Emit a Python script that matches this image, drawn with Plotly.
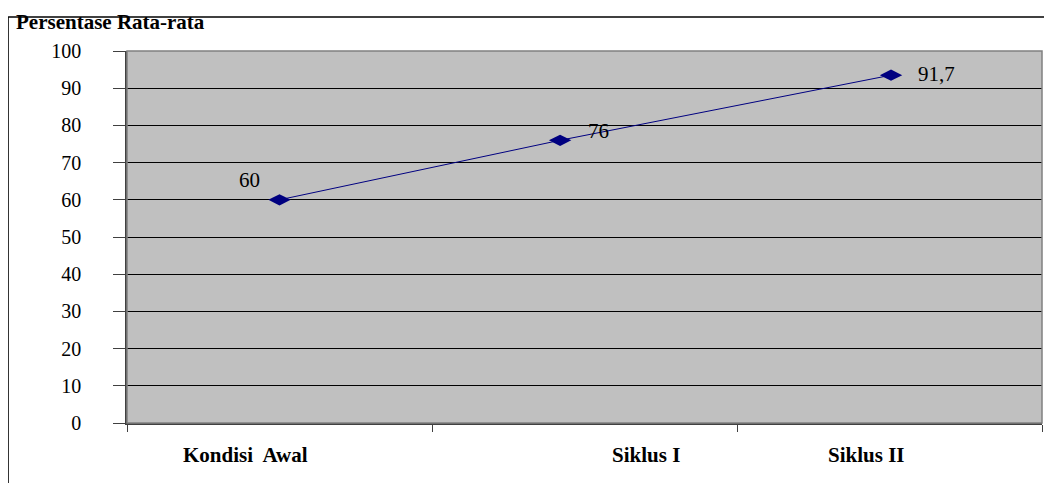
import plotly.graph_objects as go

# ---- data ----
categories = ["Kondisi  Awal", "Siklus I", "Siklus II"]
point_x = [0.50, 1.42, 2.505]          # position of each point along the category axis
values = [60, 76, 93.5]                # plotted heights
value_labels = ["60", "76", "91,7"]    # data-label texts as printed
category_label_x = [0.39, 1.703, 2.422]
y_ticks = list(range(0, 101, 10))
x_boundaries = [0, 1, 2, 3]
title_text = "Persentase Rata-rata"

FONT = "Liberation Serif, Times New Roman, serif"
NAVY = "#000080"

fig = go.Figure()
fig.add_trace(go.Scatter(
    x=point_x, y=values, mode="lines+markers",
    line=dict(color=NAVY, width=1),
    marker=dict(symbol="diamond-wide", size=16, color=NAVY),
    showlegend=False, hoverinfo="skip",
))

# data labels
label_offsets = [(-30, 20), (38, 9), (45, 1)]
for xv, yv, txt, (dx, dy) in zip(point_x, values, value_labels, label_offsets):
    fig.add_annotation(x=xv, y=yv, text=txt, showarrow=False,
                       xshift=dx, yshift=dy,
                       font=dict(family=FONT, size=21, color="black"))

# category labels
for xv, txt in zip(category_label_x, categories):
    fig.add_annotation(x=xv, y=0, yref="y", text="<b>" + txt.replace("  ", "&nbsp; ") + "</b>",
                       showarrow=False, yshift=-32, yanchor="middle",
                       font=dict(family=FONT, size=21, color="black"))

# title
fig.add_annotation(xref="paper", yref="paper", x=-0.1233, y=1.078,
                   xanchor="left", yanchor="middle", text="<b>" + title_text + "</b>",
                   showarrow=False, font=dict(family=FONT, size=21, color="black"))

# outer frame lines (top and left)
fig.add_shape(type="line", xref="paper", yref="paper",
              x0=-0.130, y0=1.0914, x1=1.02, y1=1.0914,
              line=dict(color="black", width=1.5))
fig.add_shape(type="line", xref="paper", yref="paper",
              x0=-0.130, y0=1.0914, x1=-0.130, y1=-0.2,
              line=dict(color="black", width=1.5))

# plot area border (top/right)
fig.add_shape(type="rect", xref="paper", yref="paper", x0=0, y0=0, x1=1, y1=1,
              line=dict(color="#808080", width=1.5), layer="above")

fig.update_layout(
    width=1044, height=475,
    margin=dict(l=119, r=10, t=43, b=60),
    paper_bgcolor="white", plot_bgcolor="#C0C0C0",
    font=dict(family=FONT, size=20, color="black"),
)
fig.update_xaxes(
    range=[0, 3], tickvals=x_boundaries, showticklabels=False,
    ticks="outside", ticklen=7, tickcolor="#404040", tickwidth=1,
    showgrid=False, zeroline=False,
    showline=True, linecolor="#404040", linewidth=1.5,
)
fig.update_yaxes(
    range=[0, 100], tickvals=y_ticks,
    ticks="outside", ticklen=12, tickcolor="#404040", tickwidth=1,
    ticklabelstandoff=28,
    showgrid=True, gridcolor="black", gridwidth=1, zeroline=False,
    showline=True, linecolor="#404040", linewidth=1.5,
    tickfont=dict(family=FONT, size=20, color="black"),
)

fig.write_html("out.html")
